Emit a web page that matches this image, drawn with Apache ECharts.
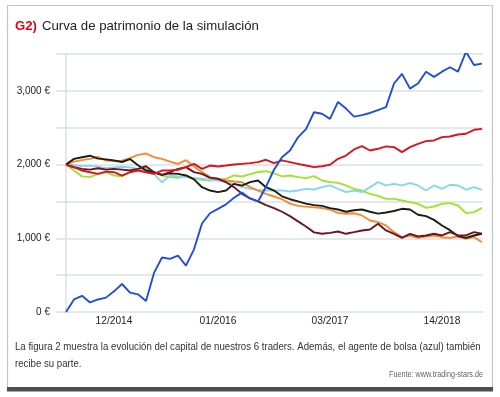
<!DOCTYPE html>
<html>
<head>
    <meta charset="utf-8">
    <script src="https://cdn.jsdelivr.net/npm/echarts@6/dist/echarts.min.js"></script>
</head>
<body style="margin:0;background:#fff;">
    <div id="main" style="width: 500px;height:397px;"></div>
    <script type="text/javascript">
        // meses desde 06/2014 (indice = mes)
        var tickMonths = [6, 19, 33, 47];
        var tickLabels = ['12/2014', '01/2016', '03/2017', '14/2018'];

        var titleCode = 'G2)';
        var titleText = 'Curva de patrimonio de la simulación';
        var caption = 'La figura 2 muestra la evolución del capital de nuestros 6 traders. Además, el agente de bolsa (azul) también\nrecibe su parte.';
        var source = 'Fuente: www.trading-stars.de';

        // valores mensuales en euros
        var broker = [0, 170, 220, 130, 170, 195, 280, 380, 262, 240, 150, 530, 740, 720, 765, 630, 850, 1200, 1340, 1400,
            1460, 1550, 1620, 1540, 1500, 1700, 1930, 2100, 2190, 2370, 2480, 2710, 2690, 2620, 2850, 2760, 2650, 2670, 2700, 2740,
            2780, 3100, 3230, 3030, 3100, 3260, 3190, 3260, 3320, 3260, 3530, 3350, 3370];
        var traderRed = [2000, 1964, 1919, 1896, 1874, 1905, 1896, 1851, 1896, 1919, 1896, 1874, 1919, 1919, 1930, 1965, 2010, 1942, 1987, 1974,
            1987, 2001, 2010, 2019, 2033, 2065, 2019, 2056, 2033, 2010, 1987, 1965, 1978, 1997, 2078, 2123, 2205, 2250, 2191, 2214,
            2246, 2237, 2169, 2237, 2282, 2318, 2327, 2372, 2381, 2408, 2418, 2472, 2485];
        var traderCyan = [2000, 1990, 1980, 1985, 1970, 1950, 1960, 1970, 1960, 1940, 1900, 1870, 1760, 1852, 1838, 1829, 1820, 1807, 1793, 1784,
            1761, 1738, 1694, 1671, 1657, 1648, 1650, 1648, 1635, 1648, 1671, 1662, 1694, 1717, 1671, 1626, 1648, 1626, 1694, 1762,
            1717, 1739, 1717, 1748, 1717, 1649, 1717, 1671, 1726, 1717, 1658, 1694, 1658];
        var traderGreen = [2000, 1919, 1840, 1830, 1874, 1896, 1851, 1842, 1896, 1932, 1941, 1896, 1851, 1829, 1820, 1852, 1807, 1793, 1784, 1793,
            1807, 1852, 1838, 1870, 1900, 1910, 1880, 1840, 1852, 1830, 1816, 1843, 1784, 1762, 1753, 1717, 1671, 1648, 1603, 1575,
            1535, 1535, 1513, 1490, 1468, 1413, 1431, 1468, 1477, 1445, 1341, 1355, 1413];
        var traderBlack = [2000, 2077, 2100, 2120, 2080, 2070, 2055, 2035, 2075, 1990, 1920, 1895, 1860, 1880, 1874, 1852, 1800, 1693, 1648, 1626,
            1648, 1738, 1715, 1761, 1784, 1693, 1648, 1570, 1530, 1500, 1470, 1450, 1440, 1410, 1390, 1360, 1380, 1390, 1360, 1335,
            1350, 1370, 1400, 1390, 1320, 1300, 1250, 1174, 1110, 1030, 1006, 1038, 1061];
        var traderOrange = [2000, 2040, 2060, 2077, 2105, 2055, 2050, 2054, 2086, 2131, 2150, 2100, 2077, 2040, 2008, 2060, 1974, 1897, 1829, 1807,
            1784, 1770, 1761, 1694, 1648, 1603, 1567, 1530, 1470, 1440, 1430, 1420, 1410, 1390, 1345, 1332, 1340, 1310, 1242, 1219,
            1174, 1083, 1015, 1038, 1006, 1024, 1038, 1015, 1006, 1024, 992, 1015, 947];
        var traderMaroon = [2000, 1964, 1942, 1932, 1950, 1932, 1942, 1932, 1919, 1942, 1977, 1896, 1860, 1896, 1942, 1965, 1897, 1874, 1820, 1807,
            1761, 1694, 1603, 1540, 1500, 1450, 1410, 1360, 1300, 1230, 1160, 1080, 1061, 1074, 1092, 1061, 1083, 1106, 1120, 1196,
            1106, 1061, 1006, 1061, 1024, 1038, 1061, 1038, 1083, 1038, 1038, 1083, 1061];

        var font = "'Liberation Sans', Arial, sans-serif";
        var gridColor = '#d8e0e5';

        function toPoints(values) {
            var pts = [];
            for (var i = 0; i < values.length; i++) {
                pts.push([i, values[i]]);
            }
            return pts;
        }

        function euro(v) {
            return String(v).replace(/\B(?=(\d{3})+(?!\d))/g, ',') + ' €';
        }

        function line(name, values, color) {
            return {
                name: name,
                type: 'line',
                showSymbol: false,
                data: toPoints(values),
                lineStyle: {color: color, width: 1.9},
                itemStyle: {color: color}
            };
        }

        var option = {
            animation: false,
            title: {
                left: 10,
                top: 12,
                text: '{a|' + titleCode + '} {b|' + titleText + '}',
                textStyle: {
                    fontWeight: 'normal',
                    rich: {
                        a: {color: '#e3001b', fontWeight: 'bold', fontSize: 13.2, fontFamily: font},
                        b: {color: '#222', fontWeight: 'normal', fontSize: 13.2, fontFamily: font}
                    }
                }
            },
            grid: {
                left: 56,
                right: 17,
                top: 54,
                bottom: 85
            },
            xAxis: {
                type: 'value',
                min: -1.25,
                max: 52.125,
                splitLine: {show: false},
                axisLine: {show: false},
                axisTick: {
                    show: true,
                    customValues: tickMonths,
                    length: 3,
                    lineStyle: {color: gridColor}
                },
                axisLabel: {
                    customValues: tickMonths,
                    margin: 4,
                    color: '#222',
                    fontSize: 10.2,
                    fontFamily: font,
                    formatter: function (v) {
                        return tickLabels[tickMonths.indexOf(v)];
                    }
                }
            },
            yAxis: {
                type: 'value',
                min: 0,
                max: 3500,
                interval: 500,
                axisLine: {show: true, lineStyle: {color: gridColor, width: 1.5}},
                axisTick: {show: true, length: 3, lineStyle: {color: gridColor}},
                splitLine: {lineStyle: {color: gridColor, width: 1.5}},
                axisLabel: {
                    margin: 6,
                    color: '#222',
                    fontSize: 10,
                    fontFamily: font,
                    formatter: function (v) {
                        return v % 1000 === 0 ? euro(v) : '';
                    }
                }
            },
            graphic: [
                {
                    type: 'rect',
                    shape: {x: 7.5, y: 5.5, width: 485, height: 384},
                    style: {fill: null, stroke: '#c4c4c4', lineWidth: 1.2},
                    silent: true
                },
                {
                    type: 'rect',
                    shape: {x: 7, y: 387, width: 486, height: 4.5},
                    style: {fill: '#4f4f4f'},
                    silent: true
                },
                {
                    type: 'text',
                    x: 15,
                    y: 338,
                    scaleX: 0.87,
                    style: {
                        text: caption,
                        fill: '#333',
                        font: '11.1px ' + font,
                        lineHeight: 17,
                        align: 'left',
                        verticalAlign: 'top'
                    }
                },
                {
                    type: 'text',
                    x: 483,
                    y: 371,
                    scaleX: 0.87,
                    style: {
                        text: source,
                        fill: '#666',
                        font: '8.3px ' + font,
                        align: 'right',
                        verticalAlign: 'top'
                    }
                }
            ],
            series: [
                line('verde', traderGreen, '#9fe330'),
                line('celeste', traderCyan, '#86d6f3'),
                line('naranja', traderOrange, '#f7892e'),
                line('negro', traderBlack, '#1c1c14'),
                line('granate', traderMaroon, '#6d1420'),
                line('rojo', traderRed, '#d8141e'),
                line('agente', broker, '#1f4fd6')
            ]
        };

        var myChart = echarts.init(document.getElementById('main'));
        myChart.setOption(option);
    </script>
</body>
</html>
